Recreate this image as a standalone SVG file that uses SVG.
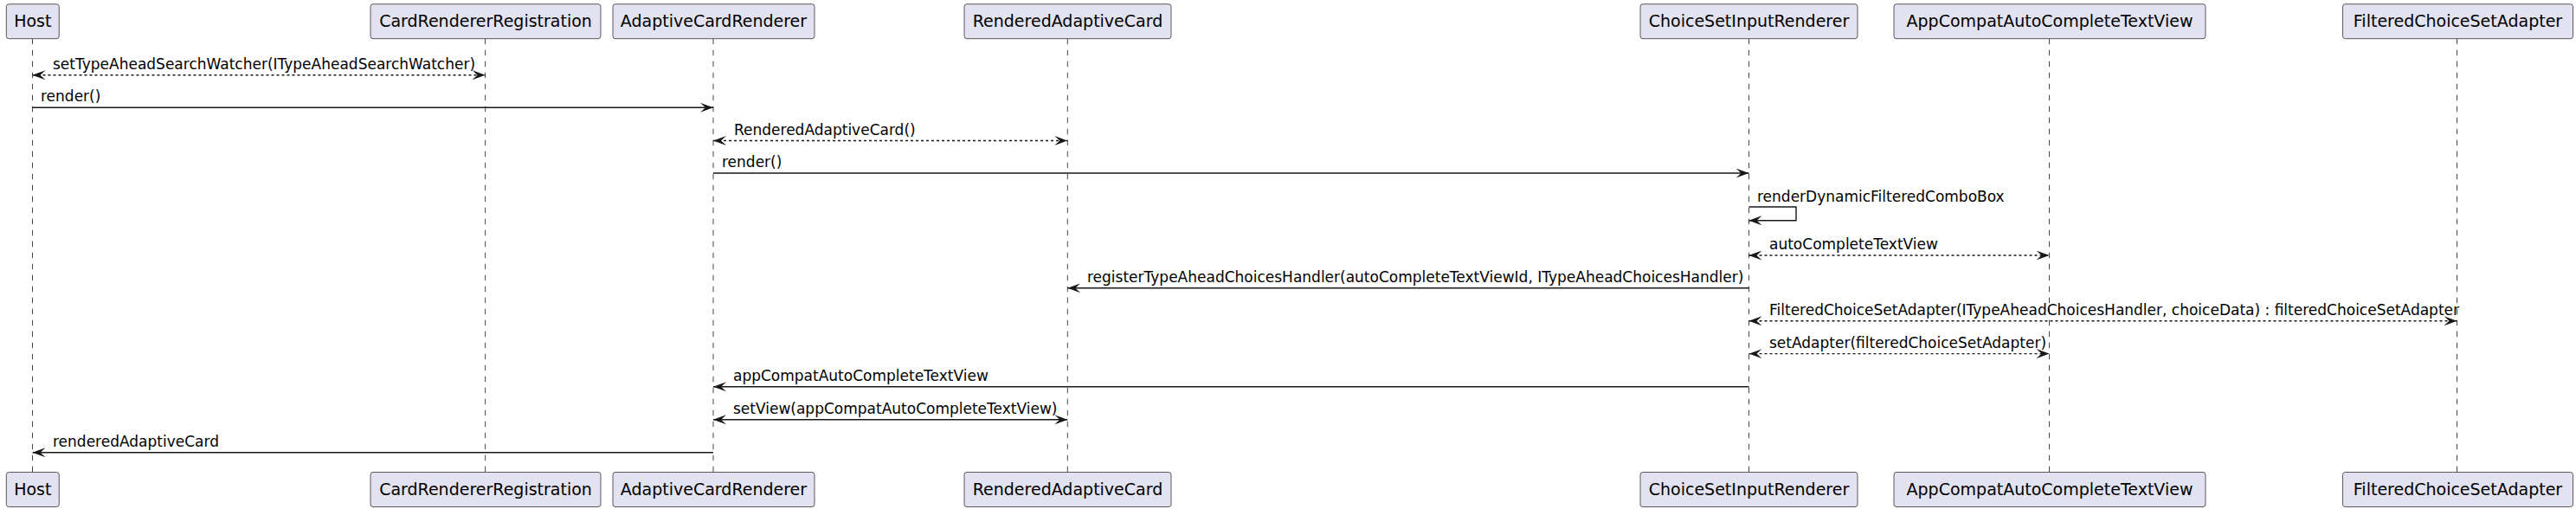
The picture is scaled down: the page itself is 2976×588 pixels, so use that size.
<svg xmlns="http://www.w3.org/2000/svg" width="2976" height="588" viewBox="0 0 2976 588">
<style>
.bg{fill:#FFFFFF}
.box{fill:#E2E2F0;stroke:#181818;stroke-width:0.7}
.pt{font-family:"DejaVu Sans","Liberation Sans",sans-serif;font-size:19px;fill:#000000;text-anchor:middle}
.life{stroke:#181818;stroke-width:0.8;stroke-dasharray:6.5,6.5;fill:none}
.msg{stroke:#181818;stroke-width:1.4;fill:none}
.dot{stroke-dasharray:3,3}
.mt{font-family:"DejaVu Sans","Liberation Sans",sans-serif;font-size:17px;fill:#000000}
</style>
<defs>
<marker id="ah" markerUnits="userSpaceOnUse" viewBox="0 0 15 11" refX="15" refY="5.5" markerWidth="15" markerHeight="11" orient="auto-start-reverse">
<path d="M0,0 L15,5.5 L0,11 L6,5.5 Z" fill="#181818"/>
</marker>
</defs>
<rect class="bg" x="0" y="0" width="2976" height="588"/>
<g id="lifelines">
<line class="life" x1="37.5" y1="44.7" x2="37.5" y2="545.5"/>
<line class="life" x1="560.6" y1="44.7" x2="560.6" y2="545.5"/>
<line class="life" x1="824" y1="44.7" x2="824" y2="545.5"/>
<line class="life" x1="1233.3" y1="44.7" x2="1233.3" y2="545.5"/>
<line class="life" x1="2020.5" y1="44.7" x2="2020.5" y2="545.5"/>
<line class="life" x1="2367.5" y1="44.7" x2="2367.5" y2="545.5"/>
<line class="life" x1="2838.5" y1="44.7" x2="2838.5" y2="545.5"/>
</g>
<g id="Host">
<rect class="box" x="7.3" y="4.7" width="61" height="40" rx="3"/>
<text class="pt" x="37.8" y="30.7">Host</text>
<rect class="box" x="7.3" y="545.5" width="61" height="40" rx="3"/>
<text class="pt" x="37.8" y="571.5">Host</text>
</g>
<g id="CardRendererRegistration">
<rect class="box" x="428" y="4.7" width="266" height="40" rx="3"/>
<text class="pt" x="561" y="30.7">CardRendererRegistration</text>
<rect class="box" x="428" y="545.5" width="266" height="40" rx="3"/>
<text class="pt" x="561" y="571.5">CardRendererRegistration</text>
</g>
<g id="AdaptiveCardRenderer">
<rect class="box" x="708" y="4.7" width="233" height="40" rx="3"/>
<text class="pt" x="824.5" y="30.7">AdaptiveCardRenderer</text>
<rect class="box" x="708" y="545.5" width="233" height="40" rx="3"/>
<text class="pt" x="824.5" y="571.5">AdaptiveCardRenderer</text>
</g>
<g id="RenderedAdaptiveCard">
<rect class="box" x="1114" y="4.7" width="239" height="40" rx="3"/>
<text class="pt" x="1233.5" y="30.7">RenderedAdaptiveCard</text>
<rect class="box" x="1114" y="545.5" width="239" height="40" rx="3"/>
<text class="pt" x="1233.5" y="571.5">RenderedAdaptiveCard</text>
</g>
<g id="ChoiceSetInputRenderer">
<rect class="box" x="1895" y="4.7" width="251" height="40" rx="3"/>
<text class="pt" x="2020.5" y="30.7">ChoiceSetInputRenderer</text>
<rect class="box" x="1895" y="545.5" width="251" height="40" rx="3"/>
<text class="pt" x="2020.5" y="571.5">ChoiceSetInputRenderer</text>
</g>
<g id="AppCompatAutoCompleteTextView">
<rect class="box" x="2188" y="4.7" width="360" height="40" rx="3"/>
<text class="pt" x="2368" y="30.7">AppCompatAutoCompleteTextView</text>
<rect class="box" x="2188" y="545.5" width="360" height="40" rx="3"/>
<text class="pt" x="2368" y="571.5">AppCompatAutoCompleteTextView</text>
</g>
<g id="FilteredChoiceSetAdapter">
<rect class="box" x="2706.5" y="4.7" width="266" height="40" rx="3"/>
<text class="pt" x="2839.5" y="30.7">FilteredChoiceSetAdapter</text>
<rect class="box" x="2706.5" y="545.5" width="266" height="40" rx="3"/>
<text class="pt" x="2839.5" y="571.5">FilteredChoiceSetAdapter</text>
</g>
<g id="connectors">
<line class="msg dot" x1="37.5" y1="86.7" x2="560.6" y2="86.7" marker-start="url(#ah)" marker-end="url(#ah)"/>
<text class="mt" x="61" y="79.7">setTypeAheadSearchWatcher(ITypeAheadSearchWatcher)</text>
<line class="msg" x1="37.5" y1="124.3" x2="824" y2="124.3" marker-end="url(#ah)"/>
<text class="mt" x="47" y="117.3">render()</text>
<line class="msg dot" x1="824" y1="162.5" x2="1233.3" y2="162.5" marker-start="url(#ah)" marker-end="url(#ah)"/>
<text class="mt" x="848" y="155.5">RenderedAdaptiveCard()</text>
<line class="msg" x1="824" y1="200" x2="2020.5" y2="200" marker-end="url(#ah)"/>
<text class="mt" x="834" y="193">render()</text>
<path class="msg" d="M2020.5,239 H2075 V254.7 H2020.5" marker-end="url(#ah)"/>
<text class="mt" x="2030" y="232.7">renderDynamicFilteredComboBox</text>
<line class="msg dot" x1="2020.5" y1="295" x2="2367.5" y2="295" marker-start="url(#ah)" marker-end="url(#ah)"/>
<text class="mt" x="2044" y="288">autoCompleteTextView</text>
<line class="msg" x1="2020.5" y1="332.8" x2="1233.3" y2="332.8" marker-end="url(#ah)"/>
<text class="mt" x="1256" y="325.8">registerTypeAheadChoicesHandler(autoCompleteTextViewId, ITypeAheadChoicesHandler)</text>
<line class="msg dot" x1="2020.5" y1="370.8" x2="2838.5" y2="370.8" marker-start="url(#ah)" marker-end="url(#ah)"/>
<text class="mt" x="2044" y="363.8">FilteredChoiceSetAdapter(ITypeAheadChoicesHandler, choiceData) : filteredChoiceSetAdapter</text>
<line class="msg dot" x1="2020.5" y1="408.6" x2="2367.5" y2="408.6" marker-start="url(#ah)" marker-end="url(#ah)"/>
<text class="mt" x="2044" y="401.6">setAdapter(filteredChoiceSetAdapter)</text>
<line class="msg" x1="2020.5" y1="446.7" x2="824" y2="446.7" marker-end="url(#ah)"/>
<text class="mt" x="847" y="439.7">appCompatAutoCompleteTextView</text>
<line class="msg" x1="824" y1="484.8" x2="1233.3" y2="484.8" marker-start="url(#ah)" marker-end="url(#ah)"/>
<text class="mt" x="847" y="477.8">setView(appCompatAutoCompleteTextView)</text>
<line class="msg" x1="824" y1="522.7" x2="37.5" y2="522.7" marker-end="url(#ah)"/>
<text class="mt" x="61" y="515.7">renderedAdaptiveCard</text>
</g>
</svg>
